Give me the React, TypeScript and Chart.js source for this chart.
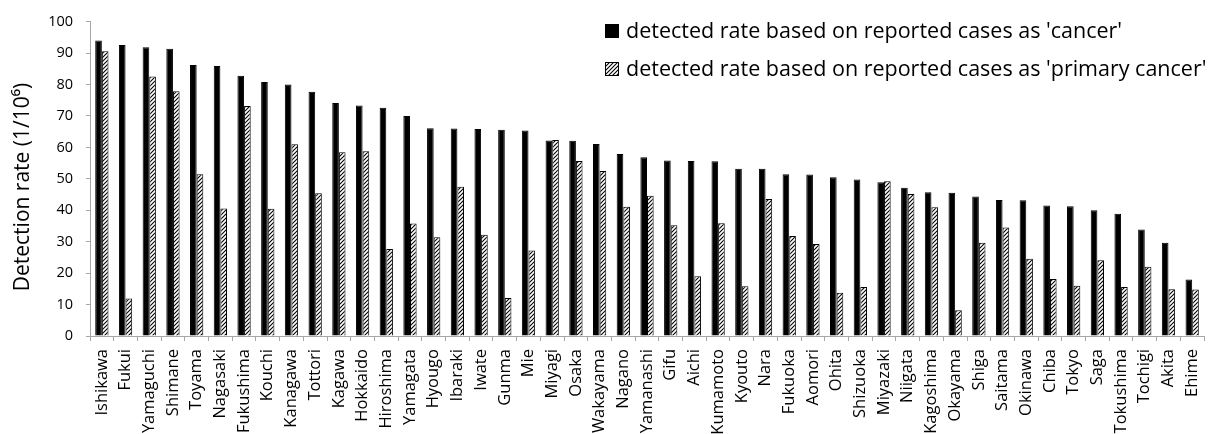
import React, { useEffect, useRef } from "react";
import { Chart, registerables } from "chart.js";

Chart.register(...registerables);

const prefectures = [
  "Ishikawa", "Fukui", "Yamaguchi", "Shimane", "Toyama", "Nagasaki", "Fukushima", "Kouchi",
  "Kanagawa", "Tottori", "Kagawa", "Hokkaido", "Hiroshima", "Yamagata", "Hyougo", "Ibaraki",
  "Iwate", "Gunma", "Mie", "Miyagi", "Osaka", "Wakayama", "Nagano", "Yamanashi", "Gifu",
  "Aichi", "Kumamoto", "Kyouto", "Nara", "Fukuoka", "Aomori", "Ohita", "Shizuoka", "Miyazaki",
  "Niigata", "Kagoshima", "Okayama", "Shiga", "Saitama", "Okinawa", "Chiba", "Tokyo", "Saga",
  "Tokushima", "Tochigi", "Akita", "Ehime",
];

const cancerRate = [
  94.0, 92.6, 91.9, 91.4, 86.2, 85.9, 82.8, 80.8, 80.0, 77.7, 74.1, 73.3, 72.6, 70.0, 66.1,
  66.0, 65.9, 65.6, 65.4, 62.2, 62.1, 61.1, 57.9, 56.9, 55.8, 55.7, 55.6, 53.2, 53.2, 51.5,
  51.4, 50.5, 49.8, 48.9, 47.2, 45.7, 45.6, 44.4, 43.3, 43.2, 41.5, 41.3, 40.0, 38.9, 33.9,
  29.7, 18.0,
];

const primaryCancerRate = [
  90.6, 11.9, 82.6, 77.9, 51.5, 40.6, 73.2, 40.5, 61.0, 45.4, 58.5, 58.8, 27.7, 35.8, 31.4,
  47.5, 32.2, 12.1, 27.2, 62.4, 55.7, 52.5, 41.1, 44.6, 35.2, 19.0, 35.9, 15.8, 43.6, 31.8,
  29.3, 13.8, 15.6, 49.2, 45.2, 41.0, 8.2, 29.7, 34.5, 24.6, 18.1, 16.0, 24.1, 15.6, 22.0,
  14.9, 14.8,
];

const yTicks = { min: 0, max: 100, step: 10 };

const seriesLabels = [
  "detected rate based on reported cases as 'cancer'",
  "detected rate based on reported cases as 'primary cancer'",
];

const yTitle = "Detection rate (1/10\u2076)";

const FONT = "'Open Sans', 'Noto Sans', sans-serif";

function makeHatch(): CanvasPattern | string {
  const c = document.createElement("canvas");
  c.width = 4;
  c.height = 4;
  const g = c.getContext("2d");
  if (!g) return "#fff";
  g.fillStyle = "#fff";
  g.fillRect(0, 0, 4, 4);
  g.strokeStyle = "#000";
  g.lineWidth = 1.1;
  g.beginPath();
  g.moveTo(-1, 5);
  g.lineTo(5, -1);
  g.moveTo(-1, 1);
  g.lineTo(1, -1);
  g.moveTo(3, 5);
  g.lineTo(5, 3);
  g.stroke();
  return g.createPattern(c, "repeat") || "#fff";
}

export default function App() {
  const ref = useRef<HTMLCanvasElement | null>(null);

  useEffect(() => {
    document.body.style.margin = "0";
    document.body.style.overflow = "hidden";
    const canvas = ref.current;
    if (!canvas) return;
    const hatch = makeHatch();

    const overlay = {
      id: "overlay",
      afterDraw(chart: any) {
        const ctx = chart.ctx;
        ctx.save();
        ctx.fillStyle = "#000";
        ctx.font = `21px ${FONT}`;
        ctx.textAlign = "center";
        ctx.textBaseline = "middle";
        ctx.translate(23, 187);
        ctx.rotate(-Math.PI / 2);
        ctx.fillText(yTitle, 0, 0);
        ctx.restore();

        ctx.save();
        ctx.font = `21.5px ${FONT}`;
        ctx.textAlign = "left";
        ctx.textBaseline = "alphabetic";
        ctx.fillStyle = "#000";
        ctx.fillRect(605, 24, 14, 14);
        ctx.fillText(seriesLabels[0], 626, 38);
        ctx.fillStyle = hatch;
        ctx.fillRect(605, 62, 14, 14);
        ctx.strokeStyle = "#000";
        ctx.lineWidth = 1;
        ctx.strokeRect(605.5, 62.5, 13, 13);
        ctx.fillStyle = "#000";
        ctx.fillText(seriesLabels[1], 626, 76);
        ctx.restore();
      },
    };

    const chart = new Chart(canvas, {
      type: "bar",
      data: {
        labels: prefectures,
        datasets: [
          {
            label: seriesLabels[0],
            data: cancerRate,
            backgroundColor: "#000",
            borderColor: "#000",
            borderWidth: 1,
          },
          {
            label: seriesLabels[1],
            data: primaryCancerRate,
            backgroundColor: hatch as any,
            borderColor: "#000",
            borderWidth: 1,
          },
        ],
      },
      options: {
        responsive: false,
        animation: false,
        layout: { padding: { top: 14, right: 2, left: 0, bottom: 0 } },
        datasets: {
          bar: { categoryPercentage: 0.56, barPercentage: 1 },
        },
        plugins: {
          legend: { display: false },
          tooltip: { enabled: false },
          title: { display: false },
        },
        scales: {
          x: {
            grid: {
              display: true,
              drawOnChartArea: false,
              drawTicks: true,
              tickLength: 5,
              color: "#a6a6a6",
              offset: true,
            },
            border: { display: true, color: "#a6a6a6", width: 1 },
            ticks: {
              autoSkip: false,
              minRotation: 90,
              maxRotation: 90,
              padding: 8,
              color: "#000",
              font: { family: FONT, size: 16.5 },
            },
            afterFit(scale: any) {
              scale.height = 98;
            },
          },
          y: {
            min: yTicks.min,
            max: yTicks.max,
            grid: {
              display: true,
              drawOnChartArea: false,
              drawTicks: true,
              tickLength: 4,
              color: "#a6a6a6",
            },
            border: { display: true, color: "#a6a6a6", width: 1 },
            ticks: {
              stepSize: yTicks.step,
              padding: 13,
              color: "#000",
              font: { family: FONT, size: 14.5 },
            },
            afterFit(scale: any) {
              scale.width = 90;
            },
          },
        },
      },
      plugins: [overlay],
    });

    return () => chart.destroy();
  }, []);

  return (
    <div style={{ position: "fixed", left: 0, top: 0, width: 1220, height: 434 }}>
      <canvas ref={ref} width={1220} height={434} style={{ display: "block" }} />
    </div>
  );
}
